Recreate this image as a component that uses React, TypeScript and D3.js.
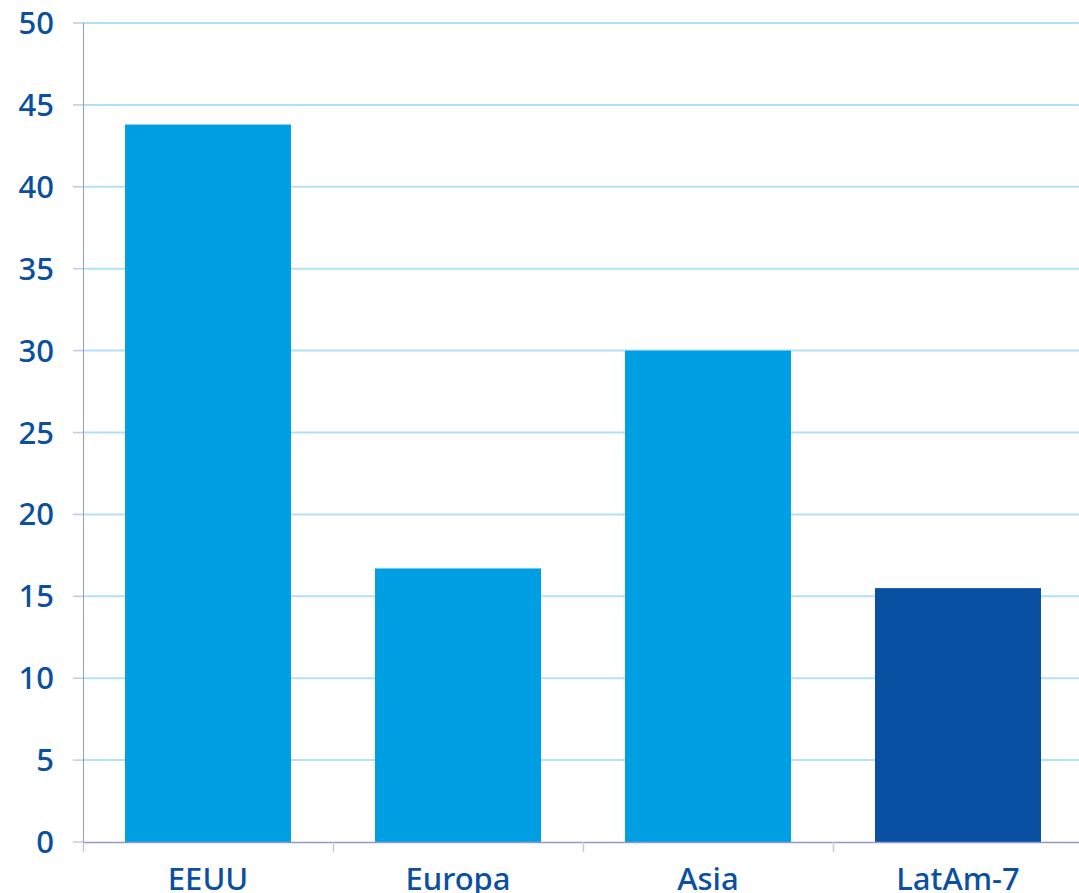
import React, { useEffect, useRef } from 'react'
import * as d3 from 'd3'

const categories = ['EEUU', 'Europa', 'Asia', 'LatAm-7']
const values = [43.8, 16.7, 30.0, 15.5]
const barColors = ['#009fe3', '#009fe3', '#009fe3', '#0a50a2']
const yTicks = [0, 5, 10, 15, 20, 25, 30, 35, 40, 45, 50]

export default function App() {
  const ref = useRef<SVGSVGElement | null>(null)

  useEffect(() => {
    document.body.style.margin = '0'
    const width = 1079
    const svg = d3.select(ref.current!)
    svg.selectAll('*').remove()

    const left = 83
    const x = d3.scaleBand<string>().domain(categories).range([left, left + 1000]).paddingInner(0.336).paddingOuter(0.168)
    const y = d3.scaleLinear().domain([0, 50]).range([842, 23])
    const font = '"Noto Sans", "Open Sans", sans-serif'
    const textColor = '#0b4fa0'
    const axisColor = '#8e9bc9'

    // grid
    svg.append('g').selectAll('line').data(yTicks.filter(t => t > 0)).enter().append('line')
      .attr('x1', left).attr('x2', width)
      .attr('y1', d => y(d)).attr('y2', d => y(d))
      .attr('stroke', '#b3e2f7').attr('stroke-width', 2)

    // bars
    svg.append('g').selectAll('rect').data(values).enter().append('rect')
      .attr('x', (_, i) => x(categories[i]) ?? 0)
      .attr('y', d => y(d))
      .attr('width', x.bandwidth())
      .attr('height', d => y(0) - y(d))
      .attr('fill', (_, i) => barColors[i])

    // left axis
    svg.append('line').attr('x1', left + 0.5).attr('x2', left + 0.5).attr('y1', y(50)).attr('y2', y(0))
      .attr('stroke', axisColor).attr('stroke-width', 1)
    svg.append('g').selectAll('line').data(yTicks).enter().append('line')
      .attr('x1', left - 10).attr('x2', left)
      .attr('y1', d => y(d)).attr('y2', d => y(d))
      .attr('stroke', '#c3c9e0').attr('stroke-width', 1.5)
    svg.append('g').selectAll('text').data(yTicks).enter().append('text')
      .attr('x', 54).attr('y', d => y(d) + 11)
      .attr('text-anchor', 'end')
      .attr('font-family', font).attr('font-size', 31).attr('font-weight', 500).attr('fill', textColor)
      .text(d => String(d))

    // bottom axis
    svg.append('line').attr('x1', left).attr('x2', width).attr('y1', y(0) + 0.5).attr('y2', y(0) + 0.5)
      .attr('stroke', axisColor).attr('stroke-width', 1.5)
    const bounds = categories.map(c => (x(c) ?? 0) - x.step() * 0.168)
    svg.append('g').selectAll('line').data(bounds).enter().append('line')
      .attr('x1', d => d + 0.5).attr('x2', d => d + 0.5)
      .attr('y1', y(0)).attr('y2', y(0) + 10)
      .attr('stroke', '#c3c9e0').attr('stroke-width', 1.5)
    svg.append('g').selectAll('text').data(categories).enter().append('text')
      .attr('x', d => (x(d) ?? 0) + x.bandwidth() / 2).attr('y', 890)
      .attr('text-anchor', 'middle')
      .attr('font-family', font).attr('font-size', 31).attr('font-weight', 500).attr('fill', textColor)
      .text(d => d)
  }, [])

  return <svg ref={ref} width={1079} height={893} style={{ display: 'block' }} />
}
